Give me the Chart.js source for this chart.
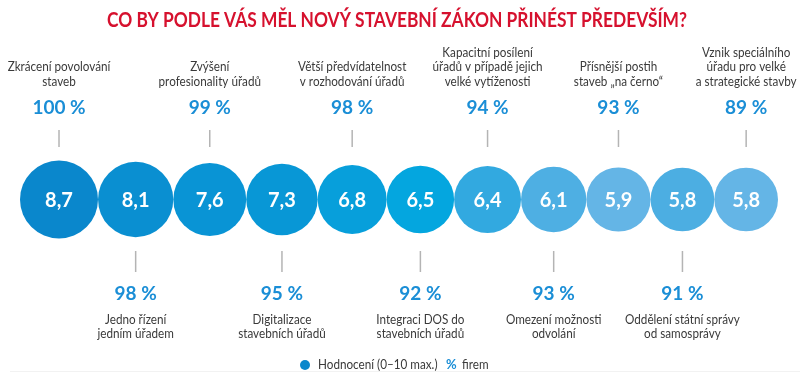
<!DOCTYPE html>
<html lang="cs">
<head>
  <meta charset="UTF-8" />
  <title>Co by podle vás měl nový stavební zákon přinést především?</title>
  <script src="https://cdn.jsdelivr.net/npm/chart.js"></script>
  <style>
    html, body { margin: 0; padding: 0; background: #fff; }
    #wrap { width: 800px; height: 382px; }
  </style>
</head>
<body>
  <div id="wrap"><canvas id="chart" width="800" height="382"></canvas></div>

  <script>
    // --- data ---
    const title = 'CO BY PODLE VÁS MĚL NOVÝ STAVEBNÍ ZÁKON PŘINÉST PŘEDEVŠÍM?';
    const categories = [
      'Zkrácení povolování\nstaveb',
      'Jedno řízení\njedním úřadem',
      'Zvýšení\nprofesionality úřadů',
      'Digitalizace\nstavebních úřadů',
      'Větší předvídatelnost\nv rozhodování úřadů',
      'Integraci DOS do\nstavebních úřadů',
      'Kapacitní posílení\núřadů v případě jejich\nvelké vytíženosti',
      'Omezení možnosti\nodvolání',
      'Přísnější postih\nstaveb „na černo“',
      'Oddělení státní správy\nod samosprávy',
      'Vznik speciálního\núřadu pro velké\na strategické stavby'
    ];
    const ratings = [8.7, 8.1, 7.6, 7.3, 6.8, 6.5, 6.4, 6.1, 5.9, 5.8, 5.8];
    const shares = [100, 98, 99, 95, 98, 92, 94, 93, 93, 91, 89];
    const legendLabels = ['Hodnocení (0–10 max.)', 'firem'];

    // --- styles ---
    const colors = ['#0a87cc', '#0a8fd1', '#0994d5', '#0897d6', '#079fdb', '#04a6df',
                    '#32a9e0', '#4eafe3', '#64b5e6', '#4caee2', '#64b5e6'];
    const blue = '#1a8ed6';
    const textColor = '#3a3a3a';
    const font = 'Lato, "Open Sans", sans-serif';

    // circles touch each other: area ~ rating, packed left to right
    const areaWidth = 758;
    const k = areaWidth / 2 / ratings.reduce((s, v) => s + Math.sqrt(v), 0);
    const radii = ratings.map(v => k * Math.sqrt(v));
    const centers = [];
    radii.forEach((r, i) => centers.push(i === 0 ? 0 : centers[i - 1] + radii[i - 1] + r));

    // source font is narrower than Lato, squeeze text horizontally
    function text(ctx, t, x, y, sx) {
      ctx.save();
      ctx.translate(x, y);
      ctx.scale(sx, 1);
      ctx.fillText(t, 0, 0);
      ctx.restore();
    }

    const labelsPlugin = {
      id: 'labels',
      afterDatasetsDraw(chart) {
        const ctx = chart.ctx;
        const pts = chart.getDatasetMeta(0).data;
        const yc = chart.scales.y.getPixelForValue(0);
        ctx.save();
        ctx.textAlign = 'center';
        ctx.textBaseline = 'middle';

        ctx.fillStyle = '#d6112e';
        ctx.font = 'bold 21px ' + font;
        text(ctx, title, 397, 20, 580 / ctx.measureText(title).width);

        pts.forEach((p, i) => {
          const top = i % 2 === 0;
          ctx.fillStyle = '#fff';
          ctx.font = 'bold 20px ' + font;
          ctx.fillText(ratings[i].toFixed(1).replace('.', ','), p.x, yc + 1);

          ctx.strokeStyle = '#b4b4b4';
          ctx.lineWidth = 1.5;
          ctx.beginPath();
          if (top) { ctx.moveTo(p.x, 130); ctx.lineTo(p.x, 147); }
          else { ctx.moveTo(p.x, 251); ctx.lineTo(p.x, 272); }
          ctx.stroke();

          ctx.fillStyle = blue;
          ctx.font = 'bold 19px ' + font;
          ctx.fillText(shares[i] + ' %', p.x, top ? 108 : 294);

          const lines = categories[i].split('\n');
          ctx.fillStyle = textColor;
          ctx.font = '13px ' + font;
          lines.forEach((t, j) => {
            const y = top ? 81.5 - (lines.length - 1 - j) * 14.5 : 320 + j * 14;
            text(ctx, t, p.x, y, 0.9);
          });
        });

        // legend
        ctx.textAlign = 'left';
        ctx.fillStyle = colors[0];
        ctx.beginPath();
        ctx.arc(305, 365, 5, 0, Math.PI * 2);
        ctx.fill();
        ctx.fillStyle = textColor;
        ctx.font = '13px ' + font;
        text(ctx, legendLabels[0], 318, 365, 0.9);
        ctx.fillStyle = blue;
        ctx.font = 'bold 13px ' + font;
        ctx.fillText('%', 446, 365);
        ctx.fillStyle = textColor;
        ctx.font = '13px ' + font;
        text(ctx, legendLabels[1], 462, 365, 0.9);

        ctx.strokeStyle = '#f2f2f2';
        ctx.lineWidth = 1;
        ctx.beginPath();
        ctx.moveTo(10, 371.5);
        ctx.lineTo(800, 371.5);
        ctx.stroke();
        ctx.restore();
      }
    };

    new Chart(document.getElementById('chart'), {
      type: 'bubble',
      data: {
        datasets: [{
          data: ratings.map((v, i) => ({ x: centers[i], y: 0, r: radii[i] })),
          backgroundColor: colors,
          borderWidth: 0
        }]
      },
      options: {
        responsive: false,
        animation: false,
        events: [],
        layout: { autoPadding: false, padding: { left: 20, right: 22, top: 130, bottom: 113 } },
        scales: {
          x: { type: 'linear', display: false, min: -radii[0], max: centers[centers.length - 1] + radii[radii.length - 1] },
          y: { type: 'linear', display: false, min: -1, max: 1 }
        },
        plugins: {
          legend: { display: false },
          tooltip: { enabled: false }
        }
      },
      plugins: [labelsPlugin]
    });
  </script>
</body>
</html>
